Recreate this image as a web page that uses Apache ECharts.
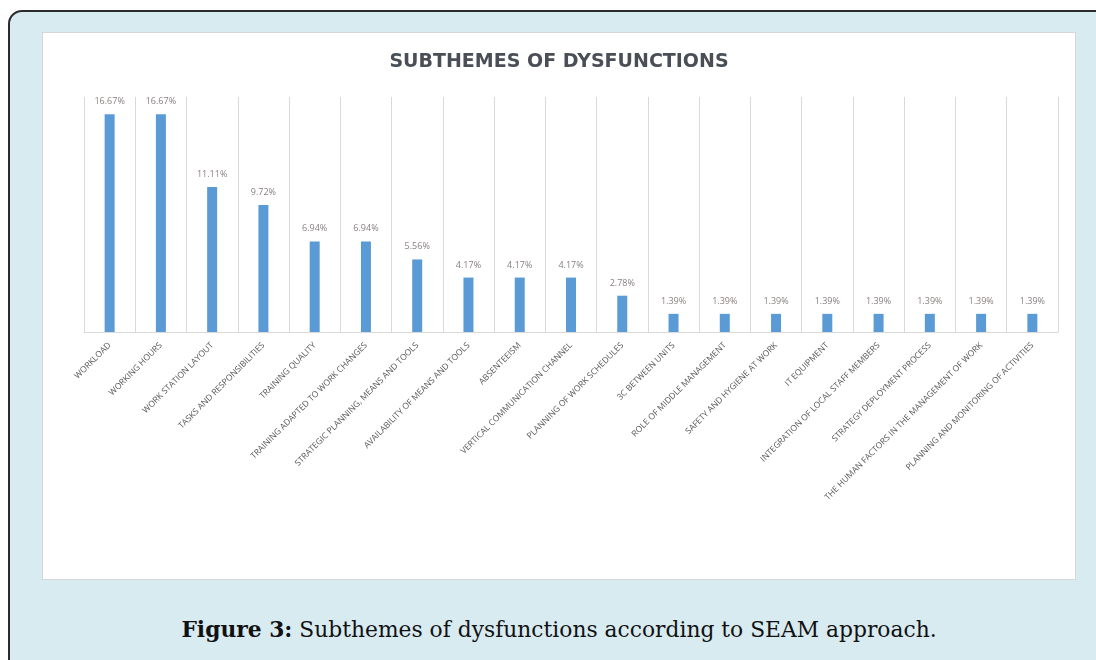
<!DOCTYPE html>
<html>
<head>
<meta charset="utf-8">
<script src="https://cdn.jsdelivr.net/npm/echarts@6/dist/echarts.min.js"></script>
<style>
html,body{margin:0;padding:0;width:1096px;height:660px;background:#fff;overflow:hidden;}
#frame{position:absolute;left:8px;top:10px;width:1100px;height:670px;background:#d8ebf1;border:2px solid #2b2b2b;border-top-left-radius:14px;box-sizing:border-box;}
#inner{position:absolute;left:42px;top:32px;width:1034px;height:548px;background:#fff;border:1px solid #d6d6d6;box-sizing:border-box;}
#chart{position:absolute;left:42px;top:32px;width:1034px;height:548px;}
#caption{position:absolute;left:0;width:1118px;top:617px;text-align:center;font-family:"DejaVu Serif",serif;font-size:21.8px;color:#111;}
</style>
</head>
<body>
<div id="frame"></div>
<div id="inner"></div>
<div id="chart"></div>
<div id="caption"><b>Figure 3:</b> Subthemes of dysfunctions according to SEAM approach.</div>
<script>
const chartTitle = 'SUBTHEMES OF DYSFUNCTIONS';
const categories = [
  'WORKLOAD',
  'WORKING HOURS',
  'WORK STATION LAYOUT',
  'TASKS AND RESPONSIBILITIES',
  'TRAINING QUALITY',
  'TRAINING ADAPTED TO WORK CHANGES',
  'STRATEGIC PLANNING, MEANS AND TOOLS',
  'AVAILABILITY OF MEANS AND TOOLS',
  'ABSENTEEISM',
  'VERTICAL COMMUNICATION CHANNEL',
  'PLANNING OF WORK SCHEDULES',
  '3C BETWEEN UNITS',
  'ROLE OF MIDDLE MANAGEMENT',
  'SAFETY AND HYGIENE AT WORK',
  'IT EQUIPMENT',
  'INTEGRATION OF LOCAL STAFF MEMBERS',
  'STRATEGY DEPLOYMENT PROCESS',
  'THE HUMAN FACTORS IN THE MANAGEMENT OF WORK',
  'PLANNING AND MONITORING OF ACTIVITIES'
];
const values = [16.67, 16.67, 11.11, 9.72, 6.94, 6.94, 5.56, 4.17, 4.17, 4.17, 2.78, 1.39, 1.39, 1.39, 1.39, 1.39, 1.39, 1.39, 1.39];

const chart = echarts.init(document.getElementById('chart'), null, {renderer:'canvas'});
chart.setOption({
  animation:false,
  title:{
    text:chartTitle, left:'center', top:16,
    textStyle:{fontFamily:'DejaVu Sans', fontSize:19, fontWeight:'bold', color:'#4a4f57'}
  },
  grid:{left:42, right:18, top:65, bottom:248, containLabel:false},
  xAxis:{
    type:'category', data:categories,
    axisLine:{lineStyle:{color:'#d9d9d9'}},
    axisTick:{show:false},
    splitLine:{show:true, interval:0, lineStyle:{color:'#d9d9d9', width:1}},
    axisLabel:{interval:0, rotate:45, fontSize:8.5, color:'#595959', fontFamily:'Open Sans', margin:12}
  },
  yAxis:{type:'value', min:0, max:18, show:false, splitLine:{show:false}},
  series:[{
    type:'bar', data:values, barWidth:10,
    itemStyle:{color:'#5b9bd5'},
    label:{show:true, position:'top', distance:8, formatter:p=>p.value.toFixed(2)+'%', fontSize:9, color:'#8a8080', fontFamily:'Open Sans'}
  }]
});
</script>
</body>
</html>
